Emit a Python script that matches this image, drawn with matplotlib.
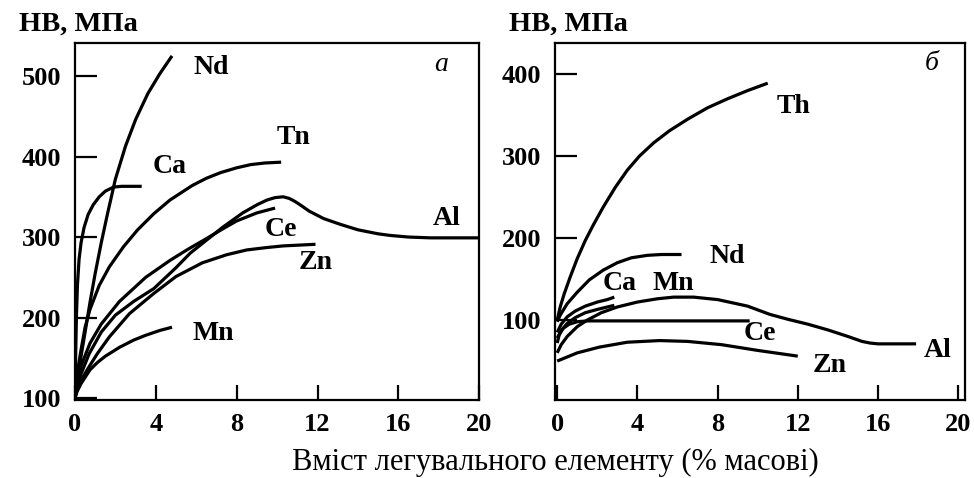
import matplotlib.pyplot as plt

# Твердість HB магнієвих сплавів залежно від вмісту легувального елемента
# (а) — ліва панель
a_nd_x = [0, 0.15, 0.3, 0.5, 0.75, 1.0, 1.3, 1.6, 2.0, 2.5, 3.0, 3.6, 4.2, 4.8]
a_nd_y = [100, 128, 152, 182, 220, 255, 293, 328, 372, 413, 446, 478, 503, 525]
a_ca_x = [0, 0.03, 0.07, 0.12, 0.2, 0.3, 0.45, 0.65, 0.9, 1.2, 1.5, 1.9, 2.3, 3.3]
a_ca_y = [100, 150, 200, 240, 272, 293, 312, 328, 340, 350, 357, 362, 363, 363]
a_tn_x = [0, 0.1, 0.3, 0.5, 0.74, 1.2, 1.7, 2.4, 3.1, 3.9, 4.7, 5.8, 6.5, 7.2, 8.0, 8.7, 9.4, 10.2]
a_tn_y = [100, 130, 160, 188, 210, 240, 263, 288, 309, 329, 346, 364, 373, 380, 386, 390, 392, 393]
a_al_x = [0, 0.1, 0.3, 0.7, 1.3, 2, 2.9, 3.9, 5, 5.7, 6.5, 7.3, 8.3, 9.0, 9.5,
          9.9, 10.3, 10.6, 10.9, 11.2, 11.6, 12.3, 13.1, 14, 15, 15.6, 16.5, 17.6, 18.5, 20]
a_al_y = [100, 115, 130, 155, 182, 203, 220, 236, 262, 280, 296, 312, 330, 340, 346,
          349, 350, 348, 344, 339, 332, 323, 316, 309, 304, 302, 300, 299, 299, 299]
a_ce_x = [0, 0.1, 0.3, 0.74, 1.3, 2.2, 3.5, 4.7, 5.6, 6.5, 7.3, 8, 9, 9.9]
a_ce_y = [100, 120, 140, 168, 192, 220, 250, 271, 285, 298, 310, 320, 330, 336]
a_zn_x = [0, 0.1, 0.3, 0.6, 1.1, 1.7, 2.7, 3.9, 5, 6.3, 7.5, 8.5, 9.5, 10.3, 11.1, 11.9]
a_zn_y = [100, 110, 122, 135, 155, 176, 205, 230, 251, 268, 278, 284, 287, 289, 290, 291]
a_mn_x = [0, 0.1, 0.3, 0.74, 1.1, 1.5, 2.2, 2.9, 3.5, 4.2, 4.8]
a_mn_y = [100, 108, 118, 135, 144, 152, 163, 172, 178, 184, 188]

# (б) — права панель
b_th_x = [0, 0.15, 0.35, 0.64, 1.0, 1.4, 1.8, 2.3, 2.9, 3.5, 4.1, 4.8, 5.6, 6.5, 7.5, 8.5, 9.5, 10.5]
b_th_y = [100, 116, 132, 152, 175, 197, 216, 238, 262, 283, 300, 316, 331, 345, 359, 370, 380, 389]
b_nd_x = [0, 0.15, 0.5, 1.0, 1.6, 2.3, 3.0, 3.7, 4.5, 5.2, 6.2]
b_nd_y = [98, 106, 120, 134, 149, 161, 170, 176, 179, 180, 180]
b_ca_x = [0, 0.2, 0.5, 0.9, 1.4, 2.0, 2.5, 2.85]
b_ca_y = [85, 95, 104, 111, 117, 122, 125, 128]
b_mn_x = [0, 0.2, 0.5, 0.9, 1.4, 2.0, 2.5, 2.85]
b_mn_y = [78, 87, 96, 103, 109, 113, 116, 118]
b_al_x = [0, 0.2, 0.5, 1.0, 1.5, 2.2, 3, 4, 5, 5.8, 6.8, 8, 9.5, 10.6, 11.5,
          12.5, 13.5, 14.5, 15.2, 15.6, 16.0, 16.5, 17.9]
b_al_y = [60, 70, 80, 92, 100, 109, 116, 122, 126, 128, 128, 125, 117, 107, 101,
          95, 88, 80, 74, 72, 71, 71, 71]
b_ce_x = [0, 0.1, 0.3, 0.6, 1.0, 1.5, 3, 6, 9.6]
b_ce_y = [72, 82, 90, 95, 98, 99, 99, 99, 99]
b_zn_x = [0, 0.5, 1.0, 2.1, 3.5, 5.1, 6.5, 8.2, 10, 12]
b_zn_y = [50, 55, 60, 67, 73, 75, 74, 70, 63, 56]

x_ticks = [0, 4, 8, 12, 16, 20]
a_y_ticks = [100, 200, 300, 400, 500]
b_y_ticks = [100, 200, 300, 400]

a_curves = [(a_nd_x, a_nd_y), (a_ca_x, a_ca_y), (a_tn_x, a_tn_y), (a_al_x, a_al_y),
            (a_ce_x, a_ce_y), (a_zn_x, a_zn_y), (a_mn_x, a_mn_y)]
b_curves = [(b_th_x, b_th_y), (b_nd_x, b_nd_y), (b_ca_x, b_ca_y), (b_mn_x, b_mn_y),
            (b_al_x, b_al_y), (b_ce_x, b_ce_y), (b_zn_x, b_zn_y)]

# підписи кривих: (текст, x, y)
a_labels = [("Nd", 6.75, 510), ("Ca", 4.7, 388), ("Tn", 10.8, 424), ("Al", 18.4, 323),
            ("Ce", 10.2, 309), ("Zn", 11.9, 268), ("Mn", 6.85, 180)]
b_labels = [("Th", 11.8, 360), ("Nd", 8.5, 177), ("Ca", 3.1, 145), ("Mn", 5.8, 145),
            ("Ce", 10.1, 84), ("Al", 19.0, 63), ("Zn", 13.6, 45)]

plt.rcParams.update({
    "font.family": "Liberation Serif",
    "font.size": 19,
    "axes.linewidth": 1.6,
})

fig = plt.figure(figsize=(9.74, 4.78), dpi=100)
ax_a = fig.add_axes([0.077, 0.163, 0.415, 0.747])
ax_b = fig.add_axes([0.570, 0.163, 0.421, 0.747])


def draw_panel(ax, curves, labels, yticks, xlim, ylim, letter, letter_xy):
    for xs, ys in curves:
        ax.plot(xs, ys, color="black", lw=2.3, solid_capstyle="butt",
                solid_joinstyle="round")
    for text, tx, ty in labels:
        ax.text(tx, ty, text, ha="center", va="center", fontweight="bold",
                fontsize=20)
    ax.text(letter_xy[0], letter_xy[1], letter, ha="center", va="center",
            fontstyle="italic", fontsize=20)
    ax.set_xlim(*xlim)
    ax.set_ylim(*ylim)
    ax.set_xticks(x_ticks)
    ax.set_yticks(yticks)
    ax.tick_params(axis="y", direction="in", length=16, width=1.6, pad=10)
    ax.tick_params(axis="x", direction="in", length=11, width=1.6, pad=9)
    for lab in ax.get_xticklabels() + ax.get_yticklabels():
        lab.set_fontweight("bold")
        lab.set_fontsize(19)


draw_panel(ax_a, a_curves, a_labels, a_y_ticks, (0, 20), (97.5, 541), "а", (18.1, 514))
draw_panel(ax_b, b_curves, b_labels, b_y_ticks, (-0.1, 20.35), (2.4, 438), "б", (18.7, 413))

fig.text(0.081, 0.950, "НВ, МПа", ha="center", va="center", fontweight="bold", fontsize=20.5)
fig.text(0.584, 0.950, "НВ, МПа", ha="center", va="center", fontweight="bold", fontsize=20.5)
fig.text(0.570, 0.032, "Вміст легувального елементу (% масові)", ha="center",
         va="center", fontsize=22)

fig.savefig("out.png", dpi=100)
